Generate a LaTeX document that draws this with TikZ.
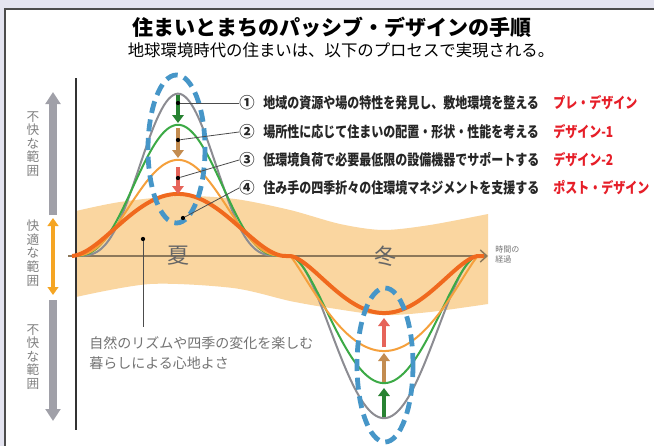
\documentclass[tikz,border=0pt]{standalone}
\usepackage{fontspec}
\setmainfont{Noto Sans CJK JP}
\newfontfamily\jpnarrow[FakeStretch=0.8]{Noto Sans CJK JP}
\usetikzlibrary{positioning, arrows.meta, calc}
\definecolor{lav}{RGB}{228,228,240}
\definecolor{band}{RGB}{250,214,160}
\definecolor{cgray}{RGB}{140,140,146}
\definecolor{cgreen}{RGB}{60,170,70}
\definecolor{clight}{RGB}{245,160,60}
\definecolor{cdark}{RGB}{240,105,30}
\definecolor{ellblue}{RGB}{70,150,200}
\definecolor{agreen}{RGB}{40,130,50}
\definecolor{atan}{RGB}{195,140,80}
\definecolor{ared}{RGB}{230,100,90}
\definecolor{lblred}{RGB}{230,30,40}
\definecolor{sidegray}{RGB}{160,160,168}
\definecolor{sideorange}{RGB}{245,165,35}
\definecolor{axisbrown}{RGB}{140,120,90}
\tikzset{
  item/.style  ={anchor=west, inner sep=0pt, font=\jpnarrow\bfseries\fontsize{11.25}{12}\selectfont,
                 text=black!85},
  phase/.style ={item, text=lblred},
  num/.style   ={inner sep=0pt, font=\bfseries\fontsize{11.5}{12}\selectfont, text=black!85},
  dot/.style   ={circle, fill=black, inner sep=0pt, minimum size=3.2pt},
  leader/.style={black!70, line width=0.6pt},
  side/.style  ={inner sep=0pt, align=center, font=\fontsize{9.5}{10.2}\selectfont, text=black!50},
  season/.style={inner sep=0pt, font=\fontsize{16.5}{16}\selectfont, text=black!60},
  curve/.style ={line width=1.5pt},
  zone/.style  ={ellblue, line width=3.6pt, dash pattern=on 9pt off 5pt},
  fat/.style   ={line width=3.6pt, -{Triangle[length=6pt, width=8.5pt]}},
  sidearrow/.style={sidegray, line width=6pt, -{Triangle[length=9pt, width=11pt]}}
}

\begin{document}
\begin{tikzpicture}[x=0.75pt, y=-0.75pt,
  declare function={
    bump(\x,\c,\h,\k) = pow(max(1-((\x-\c)/\h)*((\x-\c)/\h),0)+0.0005,\k);
    wave(\x,\s,\ks,\w,\kw) = -\s*bump(\x,178,107,\ks) + \w*bump(\x,384,94,\kw);
  }]
  \useasboundingbox (0,0) rectangle (654,446);
  \fill[lav] (0,0) rectangle (654,446);
  \fill[white] (5,9) rectangle (654,446);
  \draw[black!70, line width=1.5pt] (5,446) -- (5,9) -- (654,9);

  % heading
  \node[font=\bfseries\fontsize{15.75}{17}\selectfont] (title) at (332,27)
    {住まいとまちのパッシブ・デザインの手順};
  \node[font=\fontsize{12.3}{13}\selectfont] (subtitle) at (341,50)
    {地球環境時代の住まいは、以下のプロセスで実現される。};

  % comfort band
  \fill[band] plot[smooth] coordinates {(76,211) (120,202) (180,196) (235,199) (290,210)
      (340,224) (383,230) (430,225) (488,214)}
    -- plot[smooth] coordinates {(488,304) (430,312) (383,315) (330,308) (290,301)
      (233,288) (150,284) (76,297)} -- cycle;

  % axes
  \coordinate (vtop) at (76,78);
  \coordinate (vbot) at (76,430);
  \draw[black!80, line width=1.1pt] (vtop) -- (vbot);
  \coordinate (hstart) at (68,256);
  \coordinate (hend) at (488,256);
  \draw[axisbrown, line width=1.1pt, -{Straight Barb[length=5pt, width=9pt]}] (hstart) -- (hend);
  \node[anchor=west, inner sep=0pt, align=left, text=black!55,
        font=\fontsize{6}{7.5}\selectfont] (time) at (495,254) {時間の\\経過};

  % curves
  \draw[curve, cgray]  plot[domain=72:484, samples=180] (\x, {256+wave(\x,162,4.3,162,2.0)});
  \draw[curve, cgreen] plot[domain=72:484, samples=180] (\x, {256+wave(\x,131,3.3,127,1.8)});
  \draw[curve, clight] plot[domain=72:484, samples=180] (\x, {256+wave(\x,96,2.85,95,1.2)});
  \draw[cdark, line width=3pt] plot[domain=72:484, samples=180] (\x, {256+wave(\x,62,1.9,57,1.65)});

  \node[season] (summer) at (178,256) {夏};
  \node[season] (winter) at (385,256) {冬};

  % dashed zones
  \draw[zone] (176.5,149) ellipse [x radius=28.5, y radius=74];
  \draw[zone] (385,365) ellipse [x radius=28, y radius=77];

  % summer steps (down)
  \foreach \n/\col/\ya/\yb in {1/agreen/95/123, 2/atan/128/158, 3/ared/167/194} {
    \coordinate (s\n a) at (178,\ya);
    \coordinate (s\n b) at (178,\yb);
    \draw[fat, \col] (s\n a) -- (s\n b);
  }
  % winter steps (up)
  \foreach \n/\col/\ya/\yb in {1/agreen/417/388, 2/atan/382/353, 3/ared/347/318} {
    \coordinate (w\n a) at (384,\ya);
    \coordinate (w\n b) at (384,\yb);
    \draw[fat, \col] (w\n a) -- (w\n b);
  }

  % process list
  \node[num] (c1) at (247,103) {①};
  \node[num] (c2) at (247,132) {②};
  \node[num] (c3) at (247,160) {③};
  \node[num] (c4) at (247,188) {④};
  \node[item] (t1) at (263,103) {地域の資源や場の特性を発見し、敷地環境を整える};
  \node[item] (t2) at (263,132) {場所性に応じて住まいの配置・形状・性能を考える};
  \node[item] (t3) at (263,160) {低環境負荷で必要最低限の設備機器でサポートする};
  \node[item] (t4) at (263,188) {住み手の四季折々の住環境マネジメントを支援する};
  \node[phase] (d1) at (553,103) {プレ・デザイン};
  \node[phase] (d2) at (553,132) {デザイン-1};
  \node[phase] (d3) at (553,160) {デザイン-2};
  \node[phase] (d4) at (553,188) {ポスト・デザイン};

  \node[dot] (p1) at (178,103) {};
  \node[dot] (p2) at (178,140) {};
  \node[dot] (p3) at (178,178) {};
  \node[dot] (p4) at (183,218) {};
  \foreach \n in {1,...,4}
    \draw[leader] (p\n) -- (c\n.west);

  % comfort note
  \node[dot] (bdot) at (143,239) {};
  \node[anchor=north west, inner sep=0pt, align=left, text=black!55,
        font=\fontsize{10.5}{15}\selectfont] (note) at (89,336)
    {自然のリズムや四季の変化を楽しむ\\暮らしによる心地よさ};
  \draw[leader] (bdot) -- ($(bdot |- note.north)+(0,-9)$);

  % left scale
  \node[side] (hot)  at (33,144) {不\\快\\な\\範\\囲};
  \node[side] (good) at (33,253) {快\\適\\な\\範\\囲};
  \node[side] (cold) at (33,357) {不\\快\\な\\範\\囲};
  \coordinate (upbase) at (53,215);
  \coordinate (uptip) at (53,92);
  \coordinate (dnbase) at (53,300);
  \coordinate (dntip) at (53,421);
  \coordinate (oktop) at (53,218);
  \coordinate (okbot) at (53,295);
  \draw[sidearrow] (upbase) -- (uptip);
  \draw[sidearrow] (dnbase) -- (dntip);
  \draw[sideorange, line width=3pt, {Triangle[length=6pt, width=8pt]}-{Triangle[length=6pt, width=8pt]}]
    (oktop) -- (okbot);
\end{tikzpicture}
\end{document}
